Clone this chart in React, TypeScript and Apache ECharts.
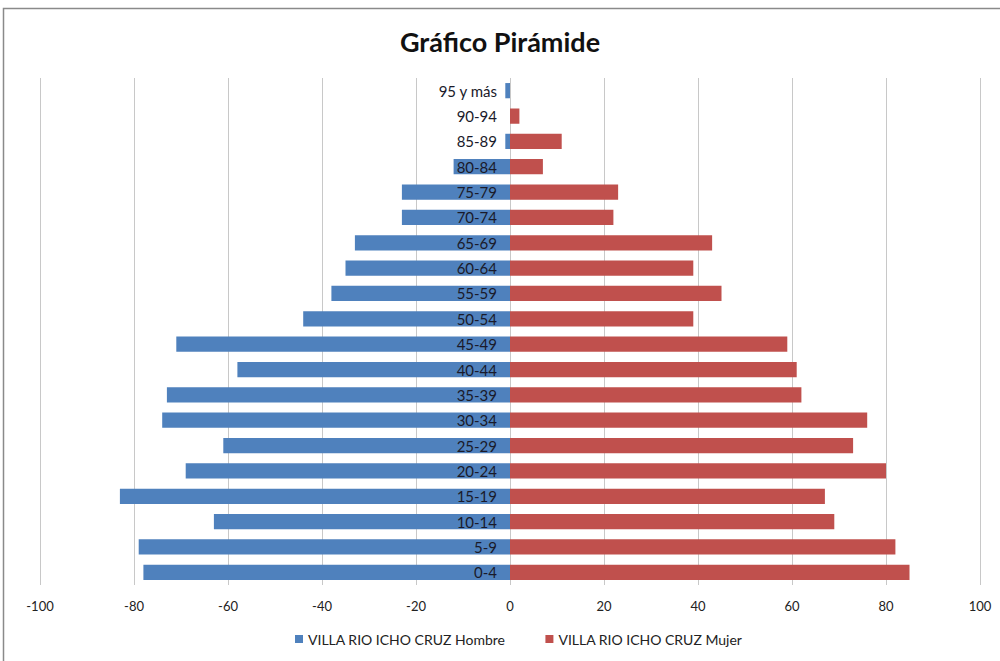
import React, { useEffect, useRef } from "react";
import * as echarts from "echarts";

const categories = ["0-4", "5-9", "10-14", "15-19", "20-24", "25-29", "30-34", "35-39", "40-44", "45-49", "50-54", "55-59", "60-64", "65-69", "70-74", "75-79", "80-84", "85-89", "90-94", "95 y más"];
const hombre = [-78, -79, -63, -83, -69, -61, -74, -73, -58, -71, -44, -38, -35, -33, -23, -23, -12, -1, 0, -1];
const mujer = [85, 82, 69, 67, 80, 73, 76, 62, 61, 59, 39, 45, 39, 43, 22, 23, 7, 11, 2, 0];
const seriesNames = ["VILLA RIO ICHO CRUZ Hombre", "VILLA RIO ICHO CRUZ Mujer"];
const titleText = "Gráfico Pirámide";
const xMin = -100;
const xMax = 100;

const FONT = "Lato, 'Open Sans', sans-serif";
const GRID_LEFT = 40;
const GRID_RIGHT = 20;
const WIDTH = 1000;

export default function App() {
  const ref = useRef<HTMLDivElement>(null);
  useEffect(() => {
    if (!ref.current) return;
    const chart = echarts.init(ref.current, null, { renderer: "svg" });
    const gridWidth = WIDTH - GRID_LEFT - GRID_RIGHT;
    const zeroOffset = -(gridWidth * (0 - xMin)) / (xMax - xMin);
    chart.setOption({
      animation: false,
      backgroundColor: "#ffffff",
      title: {
        text: titleText,
        left: "center",
        top: 23,
        textStyle: { fontFamily: FONT, fontSize: 27, fontWeight: "bold", color: "#111" },
      },
      graphic: [
        {
          type: "rect",
          shape: { x: 3.5, y: 8.5, width: 1010, height: 670 },
          style: { fill: "none", stroke: "#8a8a8a", lineWidth: 1.5 },
          silent: true,
        },
      ],
      legend: {
        bottom: 10,
        left: 290,
        itemWidth: 8,
        itemHeight: 8,
        itemGap: 40,
        icon: "rect",
        textStyle: { fontFamily: FONT, fontSize: 14, color: "#222" },
        data: seriesNames,
      },
      grid: { left: GRID_LEFT, right: GRID_RIGHT, top: 78, bottom: 76, containLabel: false, outerBoundsMode: "none" },
      xAxis: {
        type: "value",
        min: xMin,
        max: xMax,
        interval: 20,
        axisLine: { show: false },
        axisTick: { show: false },
        axisLabel: { fontFamily: FONT, fontSize: 13, color: "#222", margin: 14 },
        splitLine: { show: true, lineStyle: { color: "#c8c8c8", width: 1 } },
      },
      yAxis: {
        type: "category",
        data: categories,
        z: 10,
        position: "left",
        offset: zeroOffset,
        axisLine: { show: false, onZero: false },
        axisTick: { show: false },
        axisLabel: { fontFamily: FONT, fontSize: 15, color: "#1a1a2a", margin: 13 },
        splitLine: { show: false },
      },
      series: [
        {
          name: seriesNames[0],
          type: "bar",
          stack: "total",
          data: hombre,
          barWidth: "60%",
          itemStyle: { color: "#4F81BD" },
        },
        {
          name: seriesNames[1],
          type: "bar",
          stack: "total",
          data: mujer,
          barWidth: "60%",
          itemStyle: { color: "#C0504D" },
        },
      ],
    });
    return () => chart.dispose();
  }, []);
  return (
    <div
      ref={ref}
      style={{ position: "fixed", left: 0, top: 0, width: WIDTH, height: 661 }}
    />
  );
}
